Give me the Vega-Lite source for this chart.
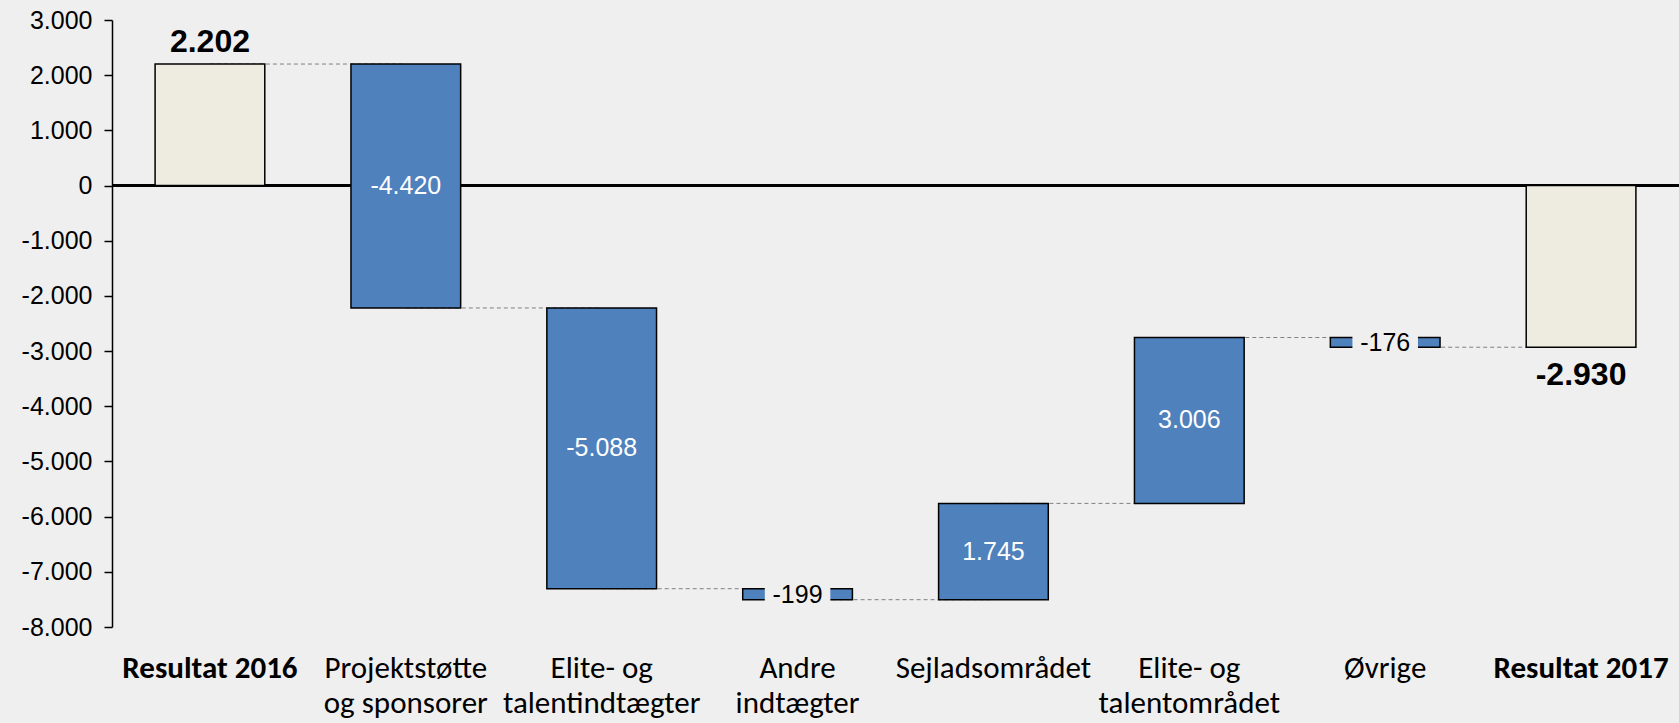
{
  "$schema": "https://vega.github.io/schema/vega-lite/v6.json",
  "autosize": {"type": "none"},
  "padding": {"left": 112, "top": 20, "right": 0, "bottom": 96},
  "width": 1567,
  "height": 607,
  "background": "#efefef",
  "config": {
    "view": {"stroke": null},
    "locale": {"number": {"decimal": ",", "thousands": ".", "grouping": [3], "currency": ["", " kr."], "minus": "-"}}
  },
  "data": {
    "values": [
      {"cat": "Resultat 2016", "start": 0, "end": 2202, "kind": "total", "value": 2202, "next": "Projektstøtte|og sponsorer"},
      {"cat": "Projektstøtte|og sponsorer", "start": 2202, "end": -2218, "kind": "delta", "value": -4420, "next": "Elite- og|talentindtægter"},
      {"cat": "Elite- og|talentindtægter", "start": -2218, "end": -7306, "kind": "delta", "value": -5088, "next": "Andre|indtægter"},
      {"cat": "Andre|indtægter", "start": -7306, "end": -7505, "kind": "small", "value": -199, "next": "Sejladsområdet"},
      {"cat": "Sejladsområdet", "start": -7505, "end": -5760, "kind": "delta", "value": 1745, "next": "Elite- og|talentområdet"},
      {"cat": "Elite- og|talentområdet", "start": -5760, "end": -2754, "kind": "delta", "value": 3006, "next": "Øvrige"},
      {"cat": "Øvrige", "start": -2754, "end": -2930, "kind": "small", "value": -176, "next": "Resultat 2017"},
      {"cat": "Resultat 2017", "start": 0, "end": -2930, "kind": "total", "value": -2930, "next": null}
    ]
  },
  "transform": [{"calculate": "(datum.start + datum.end) / 2", "as": "mid"}],
  "encoding": {
    "x": {
      "field": "cat", "type": "nominal", "sort": null, "title": null,
      "scale": {"paddingInner": 0.44, "paddingOuter": 0.22},
      "axis": {
        "orient": "bottom", "domain": false, "ticks": false, "labelAngle": 0,
        "labelExpr": "split(datum.value, '|')",
        "labelFont": "Carlito, Lato", "labelFontSize": 31, "labelColor": "black",
        "labelFontWeight": {"condition": {"test": "indexof(datum.value, 'Resultat') >= 0", "value": "bold"}, "value": "normal"},
        "labelLineHeight": 35, "labelPadding": 26, "labelBaseline": "top",
        "labelOverlap": false, "labelLimit": 0, "labelBound": false
      }
    }
  },
  "layer": [
    {
      "mark": {"type": "rule", "color": "black", "strokeWidth": 2},
      "encoding": {"x": null, "y": {"datum": 0, "type": "quantitative", "scale": {"domain": [-8000, 3000], "nice": false}}}
    },
    {
      "transform": [{"filter": "datum.next != null"}],
      "mark": {"type": "rule", "color": "#808080", "strokeWidth": 1, "strokeDash": [4, 3]},
      "encoding": {
        "x2": {"field": "next"},
        "y": {"field": "end", "type": "quantitative"}
      }
    },
    {
      "mark": {"type": "bar", "stroke": "black", "strokeWidth": 1.5},
      "encoding": {
        "y": {
          "field": "start", "type": "quantitative", "title": null,
          "scale": {"domain": [-8000, 3000], "nice": false, "zero": false},
          "axis": {
            "values": [-8000, -7000, -6000, -5000, -4000, -3000, -2000, -1000, 0, 1000, 2000, 3000],
            "format": ",d", "grid": false,
            "domainColor": "black", "domainWidth": 1.5, "tickColor": "black", "tickWidth": 1.5, "tickSize": 8,
            "labelFont": "Liberation Sans", "labelFontSize": 25, "labelColor": "black", "labelPadding": 12
          }
        },
        "y2": {"field": "end"},
        "fill": {
          "field": "kind", "type": "nominal", "legend": null,
          "scale": {"domain": ["total", "delta", "small"], "range": ["#eeece1", "#4f81bd", "#4f81bd"]}
        }
      }
    },
    {
      "transform": [{"filter": "datum.kind == 'small'"}],
      "mark": {"type": "bar", "fill": "#efefef", "stroke": "#efefef", "strokeWidth": 3, "width": {"band": 0.57}},
      "encoding": {
        "y": {"field": "start", "type": "quantitative"},
        "y2": {"field": "end"}
      }
    },
    {
      "transform": [{"filter": "datum.kind == 'delta'"}],
      "mark": {"type": "text", "color": "white", "font": "Liberation Sans", "fontSize": 25, "baseline": "middle"},
      "encoding": {
        "y": {"field": "mid", "type": "quantitative"},
        "text": {"field": "value", "type": "quantitative", "format": ",d"}
      }
    },
    {
      "transform": [{"filter": "datum.kind == 'small'"}],
      "mark": {"type": "text", "color": "black", "font": "Liberation Sans", "fontSize": 25, "baseline": "middle", "dy": 1},
      "encoding": {
        "y": {"field": "mid", "type": "quantitative"},
        "text": {"field": "value", "type": "quantitative", "format": ",d"}
      }
    },
    {
      "transform": [{"filter": "datum.kind == 'total' && datum.end > 0"}],
      "mark": {"type": "text", "color": "black", "font": "Liberation Sans", "fontSize": 32, "fontWeight": "bold", "baseline": "alphabetic", "dy": -12},
      "encoding": {
        "y": {"field": "end", "type": "quantitative"},
        "text": {"field": "value", "type": "quantitative", "format": ",d"}
      }
    },
    {
      "transform": [{"filter": "datum.kind == 'total' && datum.end < 0"}],
      "mark": {"type": "text", "color": "black", "font": "Liberation Sans", "fontSize": 32, "fontWeight": "bold", "baseline": "alphabetic", "dy": 38},
      "encoding": {
        "y": {"field": "end", "type": "quantitative"},
        "text": {"field": "value", "type": "quantitative", "format": ",d"}
      }
    }
  ]
}
